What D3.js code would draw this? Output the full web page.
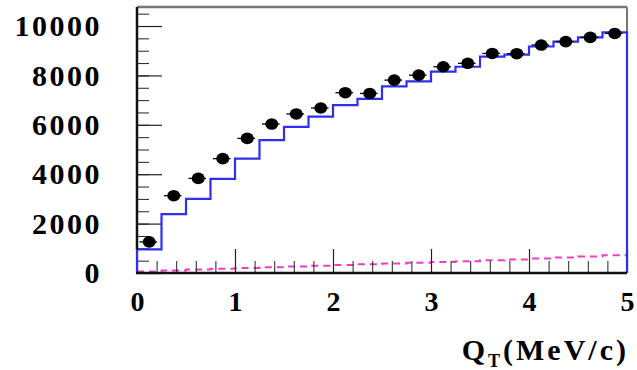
<!DOCTYPE html>
<meta charset="utf-8">
<script src="https://d3js.org/d3.v7.min.js"></script>
<style>
  body { margin: 0; background: #fff; }
  text { font-family: "Liberation Serif", "DejaVu Serif", serif; font-weight: bold; }
</style>
<div id="my_dataviz"></div>
<script>

  // bin centres of Q_T (MeV/c), 20 bins of 0.25
  var binCentres = [0.125, 0.375, 0.625, 0.875, 1.125, 1.375, 1.625, 1.875, 2.125, 2.375,
                    2.625, 2.875, 3.125, 3.375, 3.625, 3.875, 4.125, 4.375, 4.625, 4.875];
  var binWidth = 0.25;

  // data points (black dots)
  var dataCounts = [1260, 3130, 3830, 4630, 5450, 6030, 6440, 6680, 7300, 7270,
                    7810, 8010, 8350, 8490, 8890, 8880, 9230, 9370, 9540, 9700];

  // simulated histogram (blue)
  var mcCounts = [960, 2380, 3000, 3810, 4630, 5380, 5920, 6330, 6800, 7050,
                  7560, 7760, 8150, 8350, 8760, 8840, 9170, 9370, 9540, 9740];

  // background histogram (magenta dashed)
  var bgCounts = [60, 100, 140, 170, 200, 230, 260, 290, 320, 350,
                  380, 410, 450, 480, 520, 550, 590, 630, 670, 720];

  var xTicks = [0, 1, 2, 3, 4, 5];
  var yTicks = [0, 2000, 4000, 6000, 8000, 10000];

  // set the dimensions and margins of the graph
  var margin = {top: 7, right: 10, bottom: 97, left: 137},
    width = 637 - margin.left - margin.right,
    height = 370 - margin.top - margin.bottom;

  var svg = d3.select("#my_dataviz")
    .append("svg")
      .attr("width", width + margin.left + margin.right)
      .attr("height", height + margin.top + margin.bottom)
    .append("g")
      .attr("transform", "translate(" + margin.left + "," + margin.top + ")");

  var x = d3.scaleLinear().domain([0, 5]).range([0, width]);
  var y = d3.scaleLinear().domain([0, 10770]).range([height, 0]);

  // frame: top and right in grey
  svg.append("line")
    .attr("x1", 0).attr("x2", width).attr("y1", 0).attr("y2", 0)
    .style("stroke", "#777").style("stroke-width", 2.5);
  svg.append("line")
    .attr("x1", width).attr("x2", width).attr("y1", 0).attr("y2", height)
    .style("stroke", "#777").style("stroke-width", 2);

  // histogram step path from bin edges
  function stepPath(vals) {
    var p = d3.path();
    p.moveTo(x(0), y(0));
    vals.forEach(function(v, i) {
      var lo = binCentres[i] - binWidth / 2, hi = binCentres[i] + binWidth / 2;
      p.lineTo(x(lo), y(v));
      p.lineTo(x(hi), y(v));
    });
    p.lineTo(x(5), y(0));
    return p.toString();
  }

  // background (dashed magenta)
  var bgPath = d3.path();
  bgCounts.forEach(function(v, i) {
    var lo = binCentres[i] - binWidth / 2, hi = binCentres[i] + binWidth / 2;
    if (i == 0) bgPath.moveTo(x(lo), y(v)); else bgPath.lineTo(x(lo), y(v));
    bgPath.lineTo(x(hi), y(v));
  });
  svg.append("path")
    .attr("d", bgPath.toString())
    .style("fill", "none")
    .style("stroke", "#f03cc8")
    .style("stroke-width", 2)
    .style("stroke-dasharray", "7,5");

  // Y axis: major + minor ticks pointing inwards
  svg.append("g")
    .call(d3.axisLeft(y).tickValues(d3.range(0, 10501, 500)).tickSize(-12).tickFormat(""))
    .call(function(g) { g.select(".domain").remove(); })
    .selectAll("line").style("stroke", "#222").style("stroke-width", 1);
  var yAxis = svg.append("g")
    .call(d3.axisLeft(y).tickValues(yTicks).tickFormat(d3.format("d"))
      .tickSizeInner(-25).tickSizeOuter(0).tickPadding(35));
  yAxis.select(".domain").remove();
  yAxis.selectAll("line").style("stroke", "#222").style("stroke-width", 1.2);
  yAxis.selectAll("text")
    .style("font-size", "30px")
    .style("letter-spacing", "2.5px")
    .attr("fill", "#000");

  // X axis
  svg.append("g")
    .attr("transform", "translate(0," + height + ")")
    .call(d3.axisBottom(x).tickValues(d3.range(0, 5.01, 0.2)).tickSize(-12).tickFormat(""))
    .call(function(g) { g.select(".domain").remove(); })
    .selectAll("line").style("stroke", "#222").style("stroke-width", 1);
  var xAxis = svg.append("g")
    .attr("transform", "translate(0," + height + ")")
    .call(d3.axisBottom(x).tickValues(xTicks).tickFormat(d3.format("d"))
      .tickSizeInner(-24).tickSizeOuter(0).tickPadding(18));
  xAxis.select(".domain").remove();
  xAxis.selectAll("line").style("stroke", "#222").style("stroke-width", 1.2);
  xAxis.selectAll("text")
    .style("font-size", "28px")
    .attr("fill", "#000");

  // simulated histogram (blue)
  svg.append("path")
    .attr("d", stepPath(mcCounts))
    .style("fill", "none")
    .style("stroke", "#2f2ff0")
    .style("stroke-width", 2.2);

  // left and bottom axis lines
  svg.append("line")
    .attr("x1", 0).attr("x2", 0).attr("y1", 0).attr("y2", y(mcCounts[0]))
    .style("stroke", "#111").style("stroke-width", 2.5);
  svg.append("line")
    .attr("x1", -1).attr("x2", width).attr("y1", height).attr("y2", height)
    .style("stroke", "#111").style("stroke-width", 2.5);

  // data points with horizontal bars
  svg.selectAll(".ebar")
    .data(dataCounts)
    .enter()
    .append("line")
      .attr("x1", function(d, i) { return x(binCentres[i] - 0.1) })
      .attr("x2", function(d, i) { return x(binCentres[i] + 0.08) })
      .attr("y1", function(d) { return y(d) })
      .attr("y2", function(d) { return y(d) })
      .style("stroke", "#000")
      .style("stroke-width", 1.3);
  svg.selectAll(".pt")
    .data(dataCounts)
    .enter()
    .append("ellipse")
      .attr("cx", function(d, i) { return x(binCentres[i]) })
      .attr("cy", function(d) { return y(d) })
      .attr("rx", 6.5)
      .attr("ry", 5.8)
      .style("fill", "#000");

  // x axis title
  var title = svg.append("text")
    .attr("x", 629 - margin.left)
    .attr("y", 360 - margin.top)
    .attr("text-anchor", "end")
    .style("font-size", "30px")
    .style("letter-spacing", "3px")
    .attr("fill", "#000");
  title.append("tspan").text("Q");
  title.append("tspan").attr("dy", 7).style("font-size", "18px").text("T");
  title.append("tspan").attr("dy", -7).text("(MeV/c)");

</script>
